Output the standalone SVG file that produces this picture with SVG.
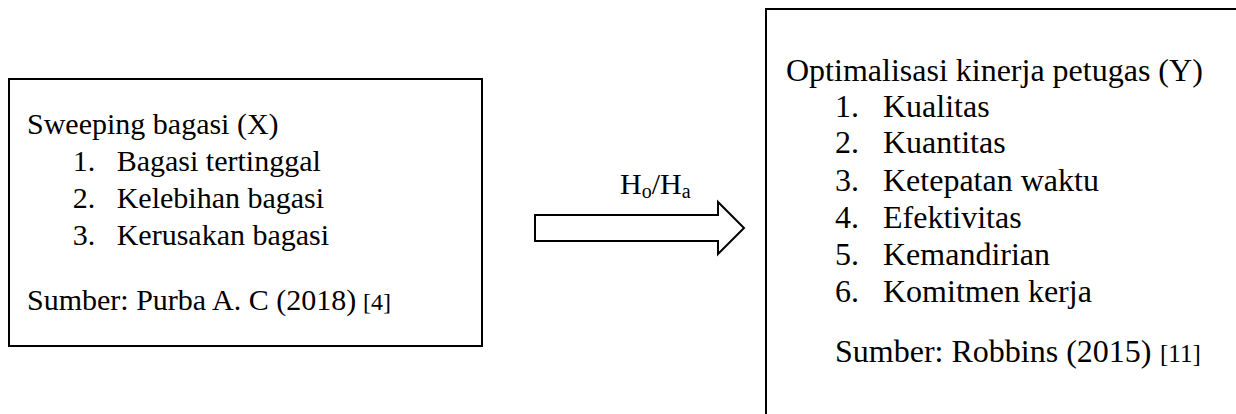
<svg xmlns="http://www.w3.org/2000/svg" width="1236" height="414" viewBox="0 0 1236 414">
<style>
.box{fill:#fff;stroke:#000;stroke-width:2}
.t{font-family:"Liberation Serif","Times New Roman",serif;font-size:30px;fill:#000}
.r{font-size:32px}
.s{font-size:24px}
.sub{font-size:20px}
</style>
<rect width="1236" height="414" fill="#fff"/>
<g id="node-x">
<rect class="box" x="9" y="79" width="473" height="267"/>
<text class="t" x="27" y="134">Sweeping bagasi (X)</text>
<text class="t" x="72.7" y="171">1.</text><text class="t" x="116.7" y="171">Bagasi tertinggal</text>
<text class="t" x="72.7" y="208">2.</text><text class="t" x="116.7" y="208">Kelebihan bagasi</text>
<text class="t" x="72.7" y="245">3.</text><text class="t" x="116.7" y="245">Kerusakan bagasi</text>
<text class="t" x="27" y="310">Sumber: Purba A. C (2018) <tspan class="s" x="363">[4]</tspan></text>
</g>
<g id="node-y">
<rect class="box" x="766" y="9" width="520" height="440"/>
<text class="t r" x="786" y="81">Optimalisasi kinerja petugas (Y)</text>
<text class="t r" x="835" y="117">1.</text><text class="t r" x="883" y="117">Kualitas</text>
<text class="t r" x="835" y="153">2.</text><text class="t r" x="883" y="153">Kuantitas</text>
<text class="t r" x="835" y="191">3.</text><text class="t r" x="883" y="191">Ketepatan waktu</text>
<text class="t r" x="835" y="228">4.</text><text class="t r" x="883" y="228">Efektivitas</text>
<text class="t r" x="835" y="265">5.</text><text class="t r" x="883" y="265">Kemandirian</text>
<text class="t r" x="835" y="302">6.</text><text class="t r" x="883" y="302">Komitmen kerja</text>
<text class="t r" x="835" y="362">Sumber: Robbins (2015) <tspan style="font-size:25px" x="1160">[11]</tspan></text>
</g>
<g id="connectors">
<polygon points="535,215 718,215 718,202 744,228 718,254 718,241 535,241" fill="#fff" stroke="#000" stroke-width="2"/>
<text class="t" x="620" y="194">H<tspan class="sub" dy="4">o</tspan><tspan dy="-4">/H</tspan><tspan class="sub" dy="4">a</tspan></text>
</g>
</svg>
